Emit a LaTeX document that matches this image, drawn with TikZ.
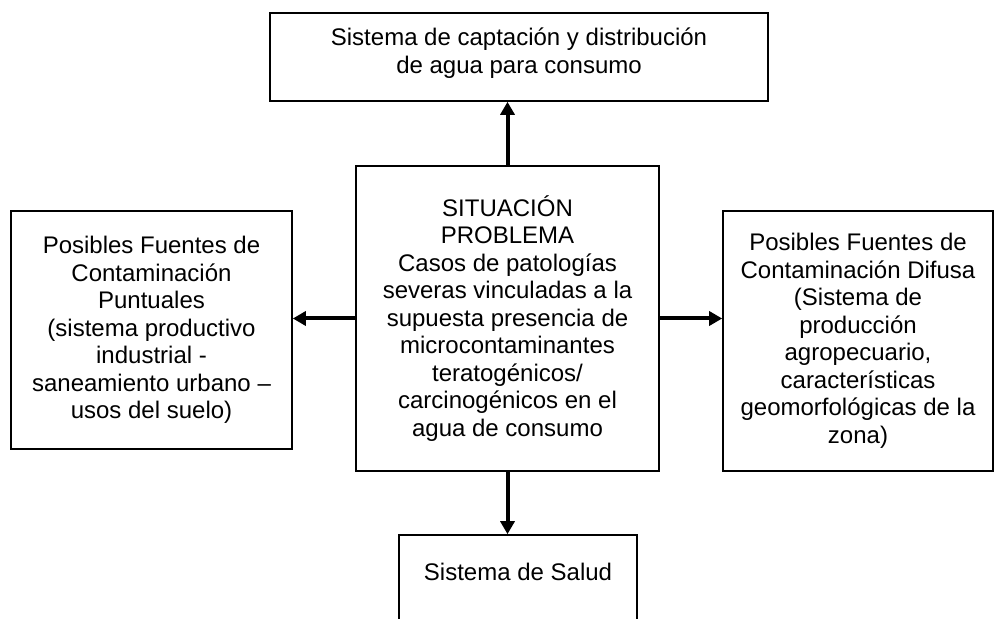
\documentclass[tikz,border=0pt]{standalone}
\usepackage{fontspec}
\setmainfont{Liberation Sans}
\usetikzlibrary{positioning}
\usetikzlibrary{arrows.meta}

\begin{document}
\begin{tikzpicture}[x=0.5pt,y=-0.5pt,thick,
  caja/.style={draw,align=center,inner sep=0pt,font=\fontsize{12}{13.75}\selectfont},
  texto/.style={align=center,inner sep=0pt,font=\fontsize{12}{13.75}\selectfont},
  flecha/.style={-{Triangle[length=6.5pt,width=7pt]},line width=2pt}]
  \useasboundingbox (0,0) rectangle (994,619);
  \clip (0,0) rectangle (994,619);
  \node[caja,minimum width=249pt,minimum height=44pt] (captacion) at (519,57) {};
  \node[texto,below=7.5pt of captacion.north] (captaciontxt) {Sistema de captación y distribución\\de agua para consumo};
  \node[caja,minimum width=151.5pt,minimum height=152.5pt] (situacion) at (507.5,318.5)
    {SITUACIÓN\\PROBLEMA\\Casos de patologías\\severas vinculadas a la\\supuesta presencia de\\microcontaminantes\\teratogénicos/\\carcinogénicos en el\\agua de consumo};
  \node[caja,minimum width=140.5pt,minimum height=119pt] (puntuales) at (151.5,330)
    {Posibles Fuentes de\\Contaminación\\Puntuales\\(sistema productivo\\industrial -\\saneamiento urbano --\\usos del suelo)};
  \node[caja,minimum width=135pt,minimum height=130pt] (difusa) at (858,341)
    {Posibles Fuentes de\\Contaminación Difusa\\(Sistema de\\producción\\agropecuario,\\características\\geomorfológicas de la\\zona)};
  \node[caja,minimum width=119pt,minimum height=60pt] (salud) at (518,595) {};
  \node[texto,below=14pt of salud.north] (saludtxt) {Sistema de Salud};
  \draw[flecha] (situacion.north) -- (situacion.north |- captacion.south);
  \draw[flecha] (situacion.west) -- (situacion.west -| puntuales.east);
  \draw[flecha] (situacion.east) -- (situacion.east -| difusa.west);
  \draw[flecha] (situacion.south) -- (situacion.south |- salud.north);
\end{tikzpicture}
\end{document}
